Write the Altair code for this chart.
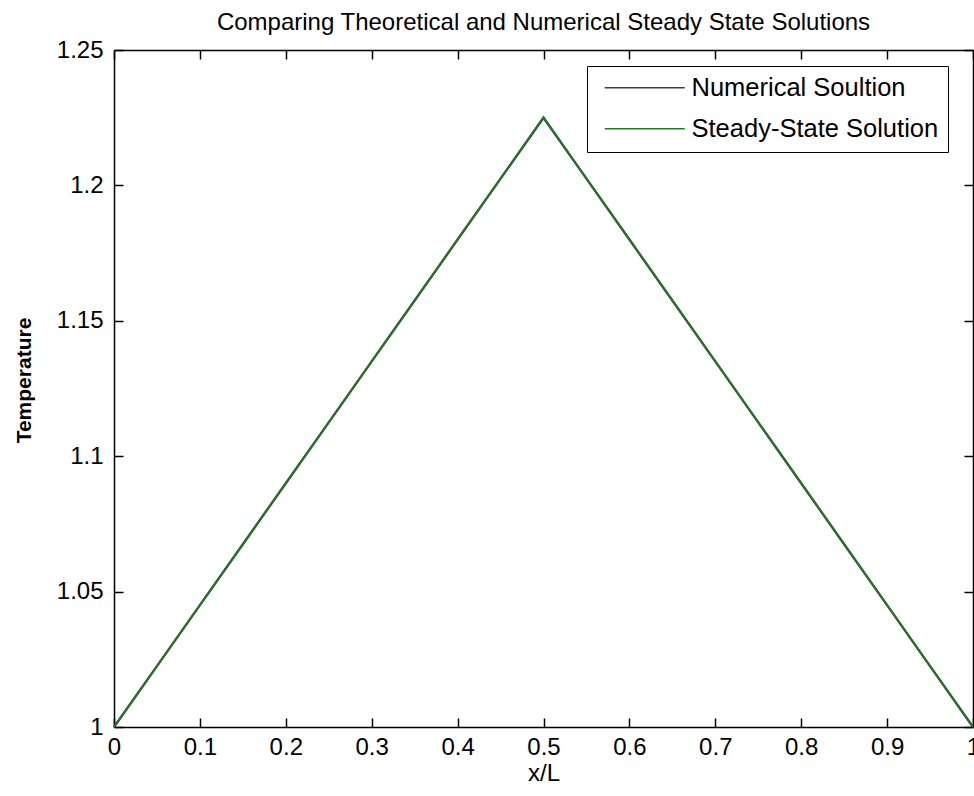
import altair as alt
import pandas as pd

# Grid positions along the bar (x/L) and the computed temperatures
x_over_l = [0.0, 0.05, 0.1, 0.15, 0.2, 0.25, 0.3, 0.35, 0.4, 0.45, 0.5,
            0.55, 0.6, 0.65, 0.7, 0.75, 0.8, 0.85, 0.9, 0.95, 1.0]
numerical_temp = [1.0, 1.0225, 1.045, 1.0675, 1.09, 1.1125, 1.135, 1.1575, 1.18, 1.2025, 1.225,
                  1.2025, 1.18, 1.1575, 1.135, 1.1125, 1.09, 1.0675, 1.045, 1.0225, 1.0]

# Analytic steady-state profile (piecewise linear)
steady_x = [0.0, 0.5, 1.0]
steady_temp = [1.0, 1.225, 1.0]

x_ticks = [0, 0.1, 0.2, 0.3, 0.4, 0.5, 0.6, 0.7, 0.8, 0.9, 1]
y_ticks = [1.0, 1.05, 1.1, 1.15, 1.2, 1.25]

series_names = ["Numerical Soultion", "Steady-State Solution"]
series_colors = ["#3a3f4c", "#1d7d1d"]

FONT = "Liberation Sans, Arial, Helvetica, sans-serif"
W, H = 859, 677

num_df = pd.DataFrame({"x": x_over_l, "T": numerical_temp, "series": series_names[0]})
ss_df = pd.DataFrame({"x": steady_x, "T": steady_temp, "series": series_names[1]})

x_scale = alt.Scale(domain=[0, 1], nice=False, zero=False)
y_scale = alt.Scale(domain=[1.0, 1.25], nice=False, zero=False)
color_scale = alt.Scale(domain=series_names, range=series_colors)

tick_style = dict(labels=False, grid=False, ticks=True,
                  tickSize=9, tickWidth=1.5, tickColor="black",
                  domain=True, domainColor="black", domainWidth=1.5)

legend = alt.Legend(title=None, orient="none", legendX=473, legendY=16,
                    strokeColor="black", fillColor="white",
                    padding=9, rowPadding=14,
                    symbolType="M-4,0L4,0", symbolSize=400,
                    symbolStrokeWidth=1.3, symbolOffset=36,
                    labelOffset=34, labelFontSize=25.5,
                    labelFont=FONT, labelColor="black", labelLimit=400)

# Numerical solution, carrying the labelled axes and the legend
numerical = alt.Chart(num_df).mark_line(strokeWidth=2.4).encode(
    x=alt.X("x:Q", scale=x_scale,
            axis=alt.Axis(values=x_ticks, format="~g", orient="bottom",
                          ticks=False, domain=False, grid=False,
                          labelFlush=False, labelOverlap=False,
                          labelFontSize=24, labelFont=FONT, labelColor="black",
                          labelPadding=8,
                          title="x/L", titleFontSize=24, titleFont=FONT,
                          titleFontWeight="normal", titleColor="black",
                          titleX=W / 2, titleY=46, titleAlign="center",
                          titleBaseline="middle")),
    y=alt.Y("T:Q", scale=y_scale,
            axis=alt.Axis(values=y_ticks, format="~g", orient="left",
                          ticks=False, domain=False, grid=False,
                          labelFlush=False, labelOverlap=False,
                          labelFontSize=24, labelFont=FONT, labelColor="black",
                          labelPadding=11,
                          title="Temperature", titleFontSize=21, titleFont=FONT,
                          titleFontWeight="bold", titleColor="black",
                          titleAngle=270, titleX=-90, titleY=330,
                          titleAlign="center", titleBaseline="middle")),
    color=alt.Color("series:N", scale=color_scale, legend=legend),
)

# Steady-state solution drawn on top
steady = alt.Chart(ss_df).mark_line(strokeWidth=1.6).encode(
    x=alt.X("x:Q", scale=x_scale, axis=None),
    y=alt.Y("T:Q", scale=y_scale, axis=None),
    color=alt.Color("series:N", scale=color_scale, legend=legend),
)

# Inward ticks along the bottom and left edges
ticks_bl = alt.Chart(num_df).mark_line(opacity=0).encode(
    x=alt.X("x:Q", scale=x_scale, title=None,
            axis=alt.Axis(values=x_ticks, orient="top", offset=-H, **tick_style)),
    y=alt.Y("T:Q", scale=y_scale, title=None,
            axis=alt.Axis(values=y_ticks, orient="right", offset=-W, **tick_style)),
)

# Inward ticks along the top and right edges
ticks_tr = alt.Chart(num_df).mark_line(opacity=0).encode(
    x=alt.X("x:Q", scale=x_scale, title=None,
            axis=alt.Axis(values=x_ticks, orient="bottom", offset=-H, **tick_style)),
    y=alt.Y("T:Q", scale=y_scale, title=None,
            axis=alt.Axis(values=y_ticks, orient="left", offset=-W, **tick_style)),
)

chart = alt.layer(numerical, steady, ticks_bl, ticks_tr).resolve_axis(
    x="independent", y="independent"
).properties(
    width=W, height=H,
    autosize=alt.AutoSizeParams(type="none"),
    padding={"left": 114, "top": 50, "right": 1, "bottom": 69},
    title=alt.TitleParams("Comparing Theoretical and Numerical Steady State Solutions",
                          fontSize=24, fontWeight="normal", font=FONT,
                          color="black", anchor="middle", offset=3),
).configure_view(
    stroke="black", strokeWidth=1.5
).configure(background="white")

chart.save("out.html", embed_options={"renderer": "svg", "actions": False})
